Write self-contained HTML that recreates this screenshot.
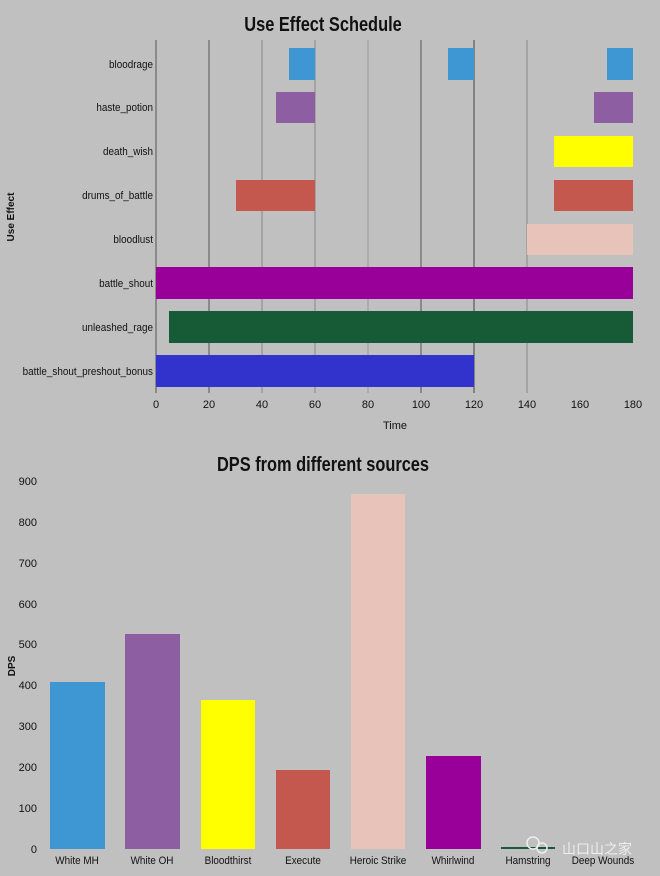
<!DOCTYPE html>
<html><head><meta charset="utf-8"><style>
body{margin:0;background:#c0c0c0;}
svg{display:block;font-family:"Liberation Sans",sans-serif;}
</style></head><body>
<svg width="660" height="876" viewBox="0 0 660 876" xmlns="http://www.w3.org/2000/svg">
<rect width="660" height="876" fill="#c0c0c0"/>
<g transform="translate(323,0) scale(0.82,1)"><text x="0" y="31" font-size="20" font-weight="bold" text-anchor="middle" fill="#111">Use Effect Schedule</text></g>
<g stroke-width="1">
<line x1="156" y1="40" x2="156" y2="393" stroke="#555"/>
<line x1="209" y1="40" x2="209" y2="393" stroke="#555"/>
<line x1="262" y1="40" x2="262" y2="393" stroke="#888"/>
<line x1="315" y1="40" x2="315" y2="393" stroke="#888"/>
<line x1="368" y1="40" x2="368" y2="393" stroke="#999"/>
<line x1="421" y1="40" x2="421" y2="393" stroke="#555"/>
<line x1="474" y1="40" x2="474" y2="393" stroke="#444"/>
<line x1="527" y1="40" x2="527" y2="393" stroke="#888"/>
</g>
<g>
<rect x="289" y="48" width="26" height="32" fill="#3e97d3"/>
<rect x="448" y="48" width="26" height="32" fill="#3e97d3"/>
<rect x="607" y="48" width="26" height="32" fill="#3e97d3"/>
<rect x="276" y="92" width="39" height="31" fill="#8e5ea2"/>
<rect x="594" y="92" width="39" height="31" fill="#8e5ea2"/>
<rect x="554" y="136" width="79" height="31" fill="#ffff00"/>
<rect x="236" y="180" width="79" height="31" fill="#c4574e"/>
<rect x="554" y="180" width="79" height="31" fill="#c4574e"/>
<rect x="527" y="224" width="106" height="31" fill="#e8c3b9"/>
<rect x="156" y="267" width="477" height="32" fill="#990099"/>
<rect x="169" y="311" width="464" height="32" fill="#165b35"/>
<rect x="156" y="355" width="318" height="32" fill="#3232cc"/>
</g>
<g font-size="11" text-anchor="end" fill="#111" transform="translate(153,0) scale(0.9,1)">
<text x="0" y="68">bloodrage</text>
<text x="0" y="111">haste_potion</text>
<text x="0" y="155">death_wish</text>
<text x="0" y="199">drums_of_battle</text>
<text x="0" y="243">bloodlust</text>
<text x="0" y="287">battle_shout</text>
<text x="0" y="331">unleashed_rage</text>
<text x="0" y="375">battle_shout_preshout_bonus</text>
</g>
<g font-size="11" text-anchor="middle" fill="#111">
<text x="156" y="408">0</text><text x="209" y="408">20</text><text x="262" y="408">40</text>
<text x="315" y="408">60</text><text x="368" y="408">80</text><text x="421" y="408">100</text>
<text x="474" y="408">120</text><text x="527" y="408">140</text><text x="580" y="408">160</text>
<text x="633" y="408">180</text>
<text x="395" y="429">Time</text>
</g>
<text transform="translate(14,217) rotate(-90)" font-size="10" font-weight="bold" text-anchor="middle" fill="#111">Use Effect</text>

<g transform="translate(323,0) scale(0.82,1)"><text x="0" y="471" font-size="20" font-weight="bold" text-anchor="middle" fill="#111">DPS from different sources</text></g>
<g font-size="11" text-anchor="end" fill="#111">
<text x="37" y="853">0</text><text x="37" y="812">100</text><text x="37" y="771">200</text>
<text x="37" y="730">300</text><text x="37" y="689">400</text><text x="37" y="648">500</text>
<text x="37" y="608">600</text><text x="37" y="567">700</text><text x="37" y="526">800</text>
<text x="37" y="485">900</text>
</g>
<text transform="translate(15,666) rotate(-90)" font-size="10" font-weight="bold" text-anchor="middle" fill="#111">DPS</text>
<g>
<rect x="50" y="682" width="55" height="167" fill="#3e97d3"/>
<rect x="125" y="634" width="55" height="215" fill="#8e5ea2"/>
<rect x="201" y="700" width="54" height="149" fill="#ffff00"/>
<rect x="276" y="770" width="54" height="79" fill="#c4574e"/>
<rect x="351" y="494" width="54" height="355" fill="#e8c3b9"/>
<rect x="426" y="756" width="55" height="93" fill="#990099"/>
<rect x="501" y="847" width="54" height="2" fill="#165b35"/>
</g>
<g font-size="11" text-anchor="middle" fill="#111">
<g transform="translate(77,0) scale(0.9,1)"><text x="0" y="864">White MH</text></g>
<g transform="translate(152,0) scale(0.9,1)"><text x="0" y="864">White OH</text></g>
<g transform="translate(228,0) scale(0.9,1)"><text x="0" y="864">Bloodthirst</text></g>
<g transform="translate(303,0) scale(0.9,1)"><text x="0" y="864">Execute</text></g>
<g transform="translate(378,0) scale(0.9,1)"><text x="0" y="864">Heroic Strike</text></g>
<g transform="translate(453,0) scale(0.9,1)"><text x="0" y="864">Whirlwind</text></g>
<g transform="translate(528,0) scale(0.9,1)"><text x="0" y="864">Hamstring</text></g>
<g transform="translate(603,0) scale(0.9,1)"><text x="0" y="864">Deep Wounds</text></g>
</g>
<circle cx="533" cy="843" r="6" fill="none" stroke="#eee" stroke-width="1.5"/>
<circle cx="542" cy="848" r="5" fill="none" stroke="#eee" stroke-width="1.5"/>
<text x="562" y="854" font-size="14" fill="#eee" font-family="'Noto Sans CJK SC',sans-serif">山口山之家</text>
</svg>
</body></html>
